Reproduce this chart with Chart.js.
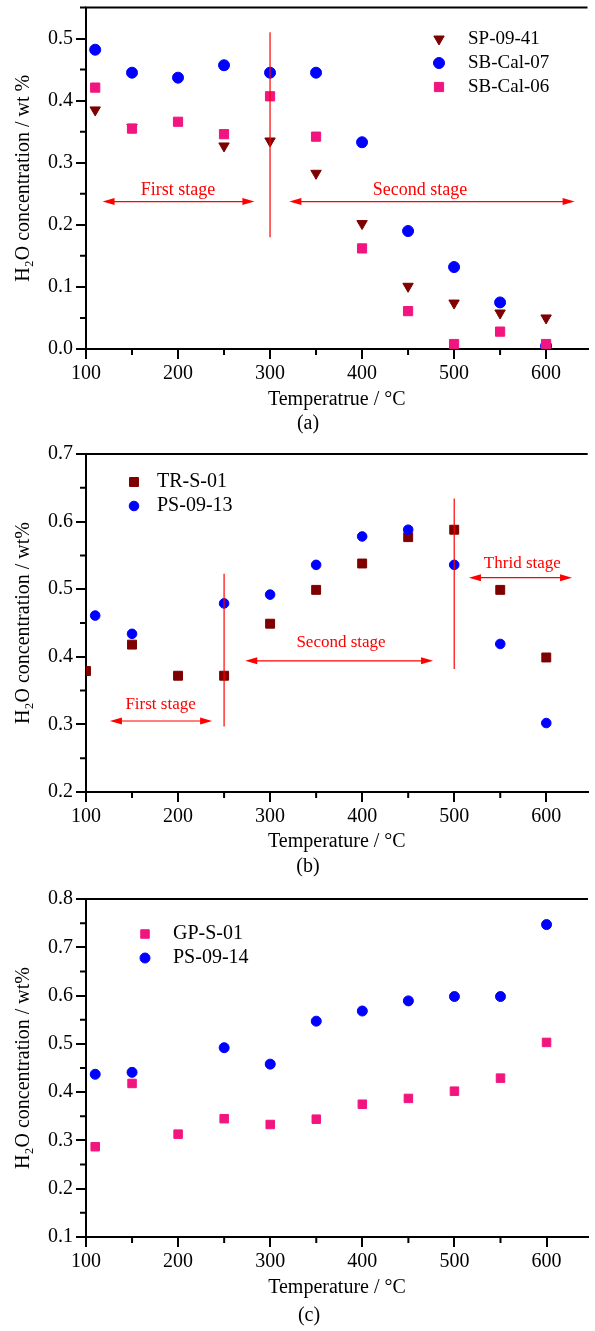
<!DOCTYPE html>
<html>
<head>
<meta charset="utf-8">
<script src="https://cdn.jsdelivr.net/npm/chart.js@4.4.1/dist/chart.umd.min.js"></script>
<style>
  html, body { margin: 0; padding: 0; background: #fff; overflow: hidden; }
  .panel { position: relative; width: 595px; }
  #panelA { height: 440px; }
  #panelB { height: 440px; }
  #panelC { height: 451px; }
</style>
</head>
<body>
<div class="panel" id="panelA"><canvas id="chartA"></canvas></div>
<div class="panel" id="panelB"><canvas id="chartB"></canvas></div>
<div class="panel" id="panelC"><canvas id="chartC"></canvas></div>
<script>
// ---------- data (a) ----------
const tempA   = [110, 150, 200, 250, 300, 350, 400, 450, 500, 550, 600];
const sp0941  = [0.385, 0.357, null, 0.327, 0.335, 0.283, 0.202, 0.101, 0.074, 0.058, 0.050];
const sbCal07 = [0.482, 0.445, 0.437, 0.457, 0.445, 0.445, 0.333, 0.190, 0.132, 0.075, 0.005];
const sbCal06 = [0.421, 0.355, 0.366, 0.346, 0.407, 0.342, 0.162, 0.061, 0.008, 0.028, 0.008];

// ---------- data (b) ----------
const tempTR   = [100, 150, 200, 250, 300, 350, 400, 450, 500, 550, 600];
const trS01    = [0.379, 0.418, 0.372, 0.372, 0.449, 0.499, 0.538, 0.577, 0.588, 0.499, 0.399];
const tempPS13 = [110, 150, 250, 300, 350, 400, 450, 500, 550, 600];
const ps0913   = [0.461, 0.434, 0.479, 0.492, 0.536, 0.578, 0.588, 0.536, 0.419, 0.302];

// ---------- data (c) ----------
const tempGP   = [110, 150, 200, 250, 300, 350, 400, 450, 500, 550, 600];
const gpS01    = [0.287, 0.418, 0.313, 0.345, 0.333, 0.344, 0.375, 0.387, 0.402, 0.429, 0.503];
const tempPS14 = [110, 150, 250, 300, 350, 400, 450, 500, 550, 600];
const ps0914   = [0.437, 0.441, 0.492, 0.458, 0.547, 0.568, 0.589, 0.598, 0.598, 0.747];

const SERIF = '"Liberation Serif", "Times New Roman", serif';
const DARKRED = '#7E0000';
const BLUE = '#0000FF';
const PINK = '#F2157F';
const RED = '#FF0000';

function pts(xs, ys) {
    return xs.map((x, i) => ({ x: x, y: ys[i] })).filter(p => p.y !== null);
}

// minor ticks sit half way between the major ones
function minorValues(scale) {
    const t = scale.ticks.map(k => k.value);
    const step = t[1] - t[0];
    const out = [];
    t.forEach(v => { const m = v + step / 2; if (m <= scale.max + 1e-9) out.push(m); });
    return out;
}

// top frame line, minor ticks and the (a)/(b)/(c) caption
const framePlugin = {
    id: 'frame',
    afterDraw(chart, args, opts) {
        const { ctx, chartArea: a, scales: { x, y } } = chart;
        ctx.save();
        ctx.strokeStyle = '#000';
        ctx.lineWidth = 2;
        ctx.beginPath();
        ctx.moveTo(a.left - 1, a.top);
        ctx.lineTo(a.right, a.top);
        ctx.stroke();

        ctx.beginPath();
        minorValues(x).forEach(v => {
            const px = x.getPixelForValue(v);
            ctx.moveTo(px, a.bottom);
            ctx.lineTo(px, a.bottom + 6);
        });
        minorValues(y).forEach(v => {
            const py = y.getPixelForValue(v);
            ctx.moveTo(a.left, py);
            ctx.lineTo(a.left - 6, py);
        });
        ctx.stroke();

        ctx.fillStyle = '#000';
        ctx.font = '20px ' + SERIF;
        ctx.textAlign = 'center';
        ctx.textBaseline = 'middle';
        ctx.fillText(opts.caption, opts.captionX, opts.captionY);
        ctx.restore();
    }
};

// red stage markers: vertical lines, double arrows, labels (data units)
const stagePlugin = {
    id: 'stages',
    afterDatasetsDraw(chart, args, opts) {
        if (!opts.lines) return;
        const { ctx, scales: { x, y } } = chart;
        ctx.save();
        ctx.strokeStyle = RED;
        ctx.fillStyle = RED;
        ctx.lineWidth = 1.2;
        opts.lines.forEach(([xv, y0, y1]) => {
            ctx.beginPath();
            ctx.moveTo(x.getPixelForValue(xv), y.getPixelForValue(y0));
            ctx.lineTo(x.getPixelForValue(xv), y.getPixelForValue(y1));
            ctx.stroke();
        });
        opts.arrows.forEach(([x0, x1, yv]) => {
            const p0 = x.getPixelForValue(x0), p1 = x.getPixelForValue(x1), py = y.getPixelForValue(yv);
            ctx.beginPath();
            ctx.moveTo(p0 + 4, py);
            ctx.lineTo(p1 - 4, py);
            ctx.stroke();
            ctx.beginPath();
            ctx.moveTo(p0, py); ctx.lineTo(p0 + 12, py - 3.5); ctx.lineTo(p0 + 12, py + 3.5);
            ctx.closePath();
            ctx.moveTo(p1, py); ctx.lineTo(p1 - 12, py - 3.5); ctx.lineTo(p1 - 12, py + 3.5);
            ctx.closePath();
            ctx.fill();
        });
        ctx.font = opts.size + 'px ' + SERIF;
        ctx.textAlign = 'center';
        ctx.textBaseline = 'middle';
        opts.texts.forEach(([txt, xv, yv]) => {
            ctx.fillText(txt, x.getPixelForValue(xv), y.getPixelForValue(yv));
        });
        ctx.restore();
    }
};

// small legend inside the plot
const keyPlugin = {
    id: 'key',
    afterDraw(chart, args, opts) {
        const ctx = chart.ctx;
        ctx.save();
        chart.data.datasets.forEach((ds, i) => {
            const yy = opts.y + i * opts.gap;
            ctx.fillStyle = ds.backgroundColor;
            ctx.strokeStyle = ds.borderColor;
            ctx.lineWidth = 1;
            Chart.helpers.drawPoint(ctx, {
                pointStyle: ds.pointStyle,
                rotation: ds.pointRotation || 0,
                radius: ds.pointRadius,
                borderWidth: 1
            }, opts.x, yy);
            ctx.fillStyle = '#000';
            ctx.font = opts.size + 'px ' + SERIF;
            ctx.textAlign = 'left';
            ctx.textBaseline = 'middle';
            ctx.fillText(ds.label, opts.textX, yy);
        });
        ctx.restore();
    }
};

function axes(o) {
    return {
        x: {
            type: 'linear', min: 100, max: 645,
            border: { color: '#000', width: 2 },
            grid: { drawOnChartArea: false, color: '#000', lineWidth: 2, tickLength: 10 },
            ticks: { stepSize: 100, includeBounds: false, autoSkip: false, maxRotation: 0,
                     color: '#000', padding: 3, font: { family: SERIF, size: 20 } },
            title: { display: true, text: o.xTitle, color: '#000',
                     font: { family: SERIF, size: 20 }, padding: { top: 0, bottom: o.xTitlePad } },
            afterFit: s => { s.height = o.xHeight; s.paddingLeft = 0; s.paddingRight = 0; }
        },
        y: {
            type: 'linear', min: o.yMin, max: o.yMax,
            border: { color: '#000', width: 2 },
            grid: { drawOnChartArea: false, color: '#000', lineWidth: 2, tickLength: 10 },
            ticks: { stepSize: 0.1, includeBounds: false, color: '#000', padding: 3,
                     font: { family: SERIF, size: 20 }, callback: v => v.toFixed(1) },
            title: { display: true, text: o.yTitle, color: '#000',
                     font: { family: SERIF, size: 20 }, padding: { top: 12, bottom: 0 } },
            afterFit: s => { s.width = 86; s.paddingTop = 0; s.paddingBottom = 0; }
        }
    };
}

function marker(label, xs, ys, color, style, radius, order, extra) {
    return Object.assign({
        label: label,
        data: pts(xs, ys),
        backgroundColor: color,
        borderColor: color,
        pointStyle: style,
        pointRadius: radius,
        pointBorderWidth: 1,
        order: order
    }, extra || {});
}

document.addEventListener('DOMContentLoaded', function () {

    // ================= (a) =================
    new Chart(document.getElementById('chartA'), {
        type: 'scatter',
        data: {
            datasets: [
                marker('SP-09-41', tempA, sp0941, DARKRED, 'triangle', 6, 3, { pointRotation: 180 }),
                marker('SB-Cal-07', tempA, sbCal07, BLUE, 'circle', 5.5, 2),
                marker('SB-Cal-06', tempA, sbCal06, PINK, 'rect', 6.5, 1)
            ]
        },
        options: {
            responsive: true, maintainAspectRatio: false, animation: false, events: [],
            layout: { padding: { top: 7, left: 0, right: 0, bottom: 0 } },
            scales: axes({ xTitle: 'Temperatrue / °C', xTitlePad: 28, xHeight: 91,
                           yTitle: 'H\u2082O concentration / wt %', yMin: 0, yMax: 0.55 }),
            plugins: {
                legend: { display: false }, tooltip: { enabled: false },
                frame: { caption: '(a)', captionX: 308, captionY: 424 },
                key: { x: 439, textX: 468, y: 39, gap: 24, size: 19 },
                stages: {
                    size: 18,
                    lines: [[300, 0.18, 0.51]],
                    arrows: [[118, 283, 0.2375], [321, 631, 0.2375]],
                    texts: [['First stage', 200, 0.256], ['Second stage', 463, 0.256]]
                }
            }
        },
        plugins: [framePlugin, stagePlugin, keyPlugin]
    });

    // ================= (b) =================
    new Chart(document.getElementById('chartB'), {
        type: 'scatter',
        data: {
            datasets: [
                marker('TR-S-01', tempTR, trS01, DARKRED, 'rect', 6.3, 2, { clip: 0 }),
                marker('PS-09-13', tempPS13, ps0913, BLUE, 'circle', 4.8, 1)
            ]
        },
        options: {
            responsive: true, maintainAspectRatio: false, animation: false, events: [],
            layout: { padding: { top: 14, left: 0, right: 0, bottom: 0 } },
            scales: axes({ xTitle: 'Temperature / °C', xTitlePad: 26, xHeight: 88,
                           yTitle: 'H\u2082O concentration / wt%', yMin: 0.2, yMax: 0.7 }),
            plugins: {
                legend: { display: false }, tooltip: { enabled: false },
                frame: { caption: '(b)', captionX: 308, captionY: 427 },
                key: { x: 134, textX: 157, y: 42, gap: 24, size: 20 },
                stages: {
                    size: 17,
                    lines: [[250, 0.297, 0.523], [500, 0.382, 0.634]],
                    arrows: [[126, 237, 0.305], [273, 477, 0.394], [516, 628, 0.517]],
                    texts: [['First stage', 181, 0.330], ['Second stage', 377, 0.421], ['Thrid stage', 574, 0.538]]
                }
            }
        },
        plugins: [framePlugin, stagePlugin, keyPlugin]
    });

    // ================= (c) =================
    new Chart(document.getElementById('chartC'), {
        type: 'scatter',
        data: {
            datasets: [
                marker('GP-S-01', tempGP, gpS01, PINK, 'rect', 6, 2),
                marker('PS-09-14', tempPS14, ps0914, BLUE, 'circle', 5, 1)
            ]
        },
        options: {
            responsive: true, maintainAspectRatio: false, animation: false, events: [],
            layout: { padding: { top: 19, left: 0, right: 0, bottom: 0 } },
            scales: axes({ xTitle: 'Temperature / °C', xTitlePad: 31, xHeight: 94,
                           yTitle: 'H\u2082O concentration / wt%', yMin: 0.1, yMax: 0.8 }),
            plugins: {
                legend: { display: false }, tooltip: { enabled: false },
                frame: { caption: '(c)', captionX: 309, captionY: 436 },
                key: { x: 145, textX: 173, y: 54, gap: 24, size: 20 }
            }
        },
        plugins: [framePlugin, stagePlugin, keyPlugin]
    });
});
</script>
</body>
</html>
